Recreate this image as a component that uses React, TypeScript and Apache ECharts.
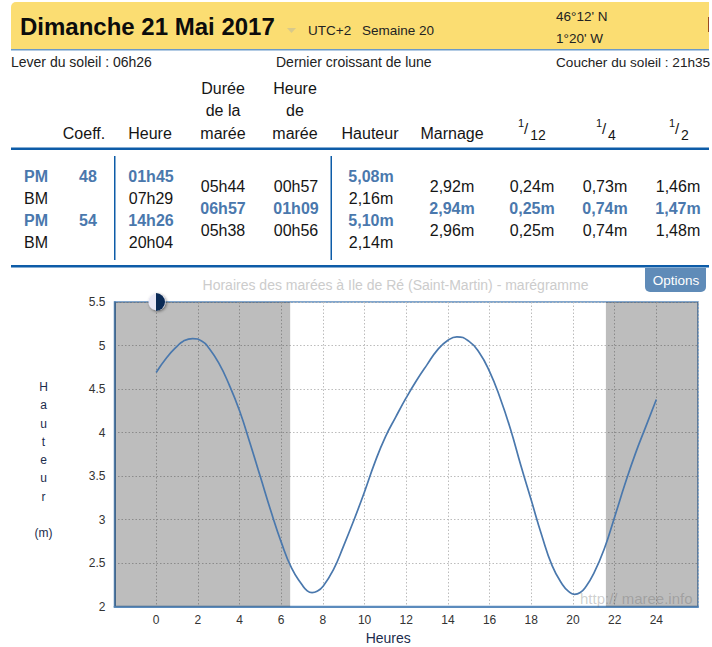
import React, { useEffect, useRef } from "react";
import * as echarts from "echarts";

const hours = [0, 0.5, 1, 1.3, 1.75, 2.2, 2.5, 3, 3.5, 4, 4.5, 5, 5.5, 6, 6.5, 7, 7.25, 7.48, 7.72, 8, 8.5, 9, 9.5, 10, 10.5, 11, 11.5, 12, 12.5, 13, 13.5, 14, 14.43, 15, 15.5, 16, 16.5, 17, 17.5, 18, 18.5, 19, 19.5, 19.8, 20.07, 20.35, 20.6, 21, 21.5, 22, 22.5, 23, 23.5, 24];
const heights = [4.69, 4.86, 4.99, 5.05, 5.08, 5.05, 4.98, 4.8, 4.55, 4.25, 3.88, 3.49, 3.1, 2.74, 2.44, 2.25, 2.18, 2.16, 2.175, 2.23, 2.42, 2.7, 3.0, 3.32, 3.66, 3.95, 4.18, 4.4, 4.6, 4.78, 4.95, 5.06, 5.1, 5.05, 4.92, 4.7, 4.4, 4.04, 3.62, 3.22, 2.82, 2.47, 2.25, 2.17, 2.14, 2.16, 2.22, 2.38, 2.66, 3.03, 3.41, 3.76, 4.07, 4.38];
const sunrise = 6.43;
const sunset = 21.58;

const title = "Dimanche 21 Mai 2017";
const chartTitle = "Horaires des marées à Ile de Ré (Saint-Martin) - marégramme";
const tideType = ["PM", "BM", "PM", "BM"];
const coeff = ["48", "", "54", ""];
const tideTime = ["01h45", "07h29", "14h26", "20h04"];
const tideHeight = ["5,08m", "2,16m", "5,10m", "2,14m"];
const duration = ["05h44", "06h57", "05h38"];
const tideHour = ["00h57", "01h09", "00h56"];
const marnage = ["2,92m", "2,94m", "2,96m"];
const twelfth = ["0,24m", "0,25m", "0,25m"];
const quarter = ["0,73m", "0,74m", "0,74m"];
const half = ["1,46m", "1,47m", "1,48m"];

const FF = '"Liberation Sans", Arial, sans-serif';
const BLUE = "#4a78ad";
const INK = "#151515";

function t(text: string, x: number, y: number, size: number, fill = INK, align = "center", weight = "normal") {
  return {
    type: "text",
    z: 20,
    style: { text, x, y, fill, align, verticalAlign: "middle", font: `${weight} ${size}px ${FF}` },
  };
}
function rect(x: number, y: number, width: number, height: number, fill: string, r: any = 0) {
  return { type: "rect", z: 10, shape: { x, y, width, height, r }, style: { fill } };
}

export default function App() {
  const ref = useRef<HTMLDivElement>(null);
  useEffect(() => {
    document.body.style.margin = "0";
    const chart = echarts.init(ref.current!, undefined, { renderer: "svg" });
    const rowY = [176, 198, 220, 242];
    const midY = [186, 208, 230];
    const graphic: any[] = [
      rect(11, 2, 698, 47, "#fbdd72", [5, 0, 0, 0]),
      rect(11, 49, 698, 1.5, "#6a9ac9"),
      t(title, 20, 26, 24, "#0c0c0c", "left", "bold"),
      { type: "polygon", z: 20, shape: { points: [[287, 28], [296, 28], [291.5, 33]] }, style: { fill: "#d8c98a" } },
      t("UTC+2", 308, 30, 13.5, "#222", "left"),
      t("Semaine 20", 362, 30, 13.5, "#222", "left"),
      t("46°12' N", 556, 16, 13.5, "#222", "left"),
      t("1°20' W", 556, 38, 13.5, "#222", "left"),
      rect(708, 17, 1, 15, "#9a4a20"),
      t("Lever du soleil : 06h26", 11, 62, 14, "#222", "left"),
      t("Dernier croissant de lune", 276, 62, 14, "#222", "left"),
      t("Coucher du soleil : 21h35", 556, 62, 13.6, "#222", "left"),
      t("Coeff.", 84, 133, 16),
      t("Heure", 150, 133, 16),
      t("Durée", 223, 88, 16), t("de la", 223, 110, 16), t("marée", 223, 133, 16),
      t("Heure", 295, 88, 16), t("de", 295, 110, 16), t("marée", 295, 133, 16),
      t("Hauteur", 370, 133, 16),
      t("Marnage", 452, 133, 16),
      t("1", 521, 123, 11), t("/", 526, 128, 15), t("12", 538, 135, 14),
      t("1", 599, 123, 11), t("/", 604, 128, 15), t("4", 612, 135, 14),
      t("1", 672, 123, 11), t("/", 677, 128, 15), t("2", 685, 135, 14),
      rect(11, 147.5, 698, 2.5, "#0d5ca8"),
      rect(114, 156, 1.5, 104, "#0d5ca8"),
      rect(330.5, 156, 1.5, 104, "#0d5ca8"),
      rect(11, 265, 698, 2.5, "#0d5ca8"),
      rect(645, 268, 61, 24, "#5f8bb8", [0, 0, 5, 5]),
      t("Options", 676, 280, 13.5, "#ffffff"),
      t(chartTitle, 395.5, 285, 14, "#cccccc"),
      { type: "circle", z: 22, shape: { cx: 157, cy: 302, r: 8.5 }, style: { fill: "#e8e8f6", shadowBlur: 3, shadowColor: "rgba(0,0,0,0.5)", shadowOffsetX: 1, shadowOffsetY: 1 } },
      { type: "sector", z: 23, shape: { cx: 156, cy: 302, r: 9, r0: 0, startAngle: -Math.PI / 2, endAngle: Math.PI / 2 }, style: { fill: "#0a2a55" } },
      t("http:// maree.info", 580, 598, 15, "rgba(90,90,90,0.3)", "left"),
      { type: "text", z: 20, style: { text: "H\na\nu\nt\ne\nu\nr\n\n(m)", x: 43.5, y: 460, fill: "#1c2c4c", align: "center", verticalAlign: "middle", lineHeight: 18.25, font: `normal 12px ${FF}` } },
      rect(709, 0, 3, 647, "#ffffff"),
    ];
    tideType.forEach((v, i) => {
      const col = i % 2 === 0 ? BLUE : INK;
      const w = i % 2 === 0 ? "bold" : "normal";
      graphic.push(t(v, 36, rowY[i], 16, col, "center", w));
      if (coeff[i]) graphic.push(t(coeff[i], 88, rowY[i], 16, col, "center", w));
      graphic.push(t(tideTime[i], 151, rowY[i], 16, col, "center", w));
      graphic.push(t(tideHeight[i], 371, rowY[i], 16, col, "center", w));
    });
    midY.forEach((y, i) => {
      const col = i === 1 ? BLUE : INK;
      const w = i === 1 ? "bold" : "normal";
      graphic.push(t(duration[i], 223, y, 16, col, "center", w));
      graphic.push(t(tideHour[i], 296, y, 16, col, "center", w));
      graphic.push(t(marnage[i], 452, y, 16, col, "center", w));
      graphic.push(t(twelfth[i], 532, y, 16, col, "center", w));
      graphic.push(t(quarter[i], 605, y, 16, col, "center", w));
      graphic.push(t(half[i], 678, y, 16, col, "center", w));
    });
    const gridLine = { show: true, lineStyle: { color: "#bcbcbc", type: [1.5, 2] as any, width: 1 } };
    chart.setOption({
      animation: false,
      textStyle: { fontFamily: FF },
      grid: { left: 114.5, right: 14, top: 302, bottom: 40.5, outerBoundsMode: "none", show: true, borderColor: "#5b8bbd", borderWidth: 1.5, backgroundColor: "transparent" },
      xAxis: {
        type: "value",
        min: -2,
        max: 26,
        interval: 2,
        name: "Heures",
        nameLocation: "middle",
        nameGap: 24,
        nameTextStyle: { color: "#1c2c4c", fontSize: 14, fontFamily: FF, padding: [0, 36, 0, 0] },
        axisLine: { show: true, onZero: false, lineStyle: { color: "#5b8bbd", width: 2 } },
        axisTick: { show: false },
        axisLabel: { color: "#333", fontSize: 12, margin: 7, formatter: (v: number) => (v < 0 || v > 24 ? "" : String(v)) },
        splitLine: gridLine,
      },
      yAxis: {
        type: "value",
        min: 2,
        max: 5.5,
        interval: 0.5,
        axisLine: { show: true, onZero: false, lineStyle: { color: "#5b8bbd", width: 2 } },
        axisTick: { show: false },
        axisLabel: { color: "#333", fontSize: 12, margin: 9, formatter: (v: number) => String(v) },
        splitLine: gridLine,
      },
      series: [
        {
          name: "Hauteur",
          type: "line",
          z: 3,
          smooth: 0.5,
          showSymbol: false,
          lineStyle: { color: "#4a78ad", width: 1.7 },
          data: hours.map((h, i) => [h, heights[i]]),
        },
        {
          name: "Nuit",
          type: "line",
          z: 5,
          data: [],
          silent: true,
          markArea: {
            silent: true,
            itemStyle: { color: "rgba(0,0,0,0.26)" },
            data: [
              [{ xAxis: -2 }, { xAxis: sunrise }],
              [{ xAxis: sunset }, { xAxis: 26 }],
            ],
          },
        },
      ],
      graphic,
    });
    return () => chart.dispose();
  }, []);
  return <div ref={ref} style={{ width: 712, height: 647 }} />;
}
